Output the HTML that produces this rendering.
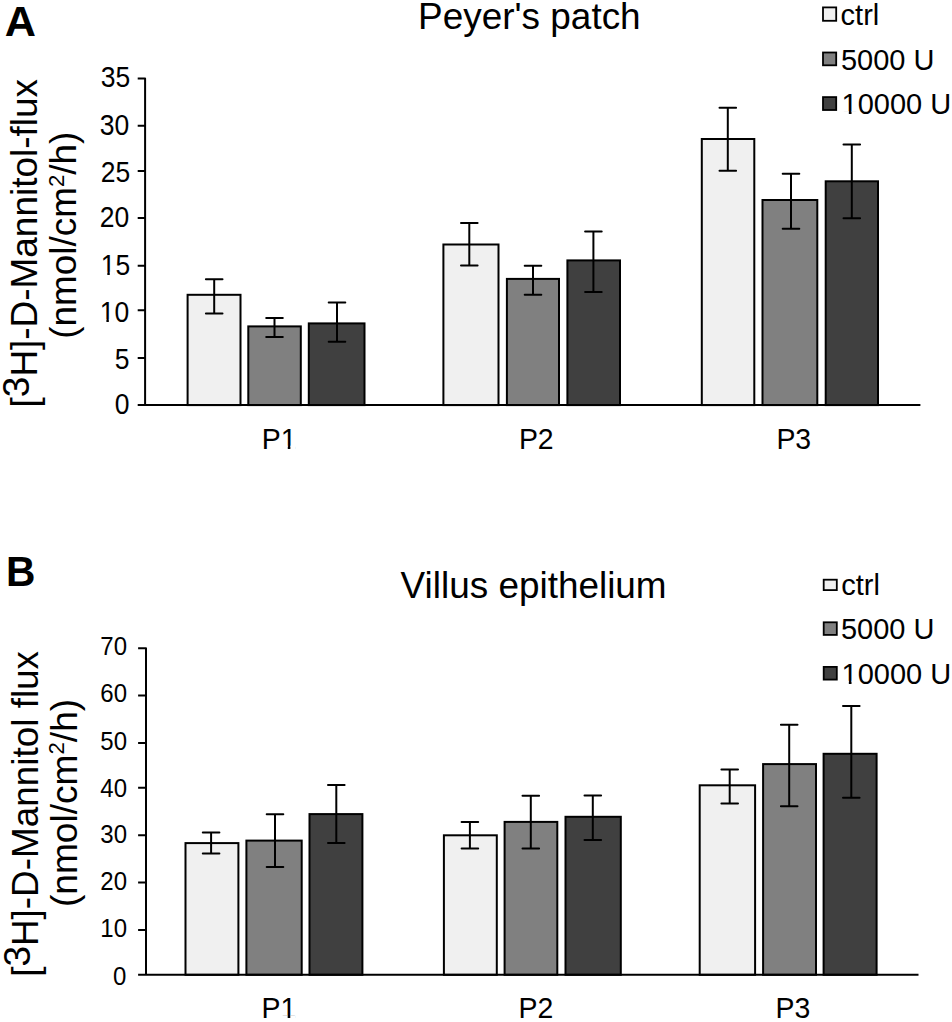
<!DOCTYPE html>
<html><head><meta charset="utf-8"><style>
html,body{margin:0;padding:0;background:#fff;width:952px;height:1022px;overflow:hidden}
svg{display:block}
text{font-family:"Liberation Sans",sans-serif;fill:#000}
</style></head><body>
<svg width="952" height="1022" viewBox="0 0 952 1022">
<rect x="187.6" y="294.8" width="52.90" height="110.30" fill="#f0f0f0" stroke="#000" stroke-width="2.0"/>
<rect x="248.3" y="326.4" width="52.50" height="78.70" fill="#808080" stroke="#000" stroke-width="2.0"/>
<rect x="308.8" y="323.4" width="55.70" height="81.70" fill="#404040" stroke="#000" stroke-width="2.0"/>
<rect x="443.4" y="244.5" width="55.10" height="160.60" fill="#f0f0f0" stroke="#000" stroke-width="2.0"/>
<rect x="506.9" y="278.9" width="52.10" height="126.20" fill="#808080" stroke="#000" stroke-width="2.0"/>
<rect x="567.4" y="260.4" width="52.60" height="144.70" fill="#404040" stroke="#000" stroke-width="2.0"/>
<rect x="701.8" y="139" width="52.50" height="266.10" fill="#f0f0f0" stroke="#000" stroke-width="2.0"/>
<rect x="762.5" y="200" width="54.80" height="205.10" fill="#808080" stroke="#000" stroke-width="2.0"/>
<rect x="825.7" y="181.3" width="52.30" height="223.80" fill="#404040" stroke="#000" stroke-width="2.0"/>
<path d="M214.2 279.35V313.5" stroke="#000" stroke-width="2.0" fill="none"/><path d="M205.90 279.35H222.50M205.90 313.5H222.50" stroke="#000" stroke-width="2.0" fill="none" stroke-linecap="round"/>
<path d="M274.5 318V336.9" stroke="#000" stroke-width="2.0" fill="none"/><path d="M266.20 318H282.80M266.20 336.9H282.80" stroke="#000" stroke-width="2.0" fill="none" stroke-linecap="round"/>
<path d="M337 302.4V341.7" stroke="#000" stroke-width="2.0" fill="none"/><path d="M328.70 302.4H345.30M328.70 341.7H345.30" stroke="#000" stroke-width="2.0" fill="none" stroke-linecap="round"/>
<path d="M469.3 223V265.5" stroke="#000" stroke-width="2.0" fill="none"/><path d="M461.00 223H477.60M461.00 265.5H477.60" stroke="#000" stroke-width="2.0" fill="none" stroke-linecap="round"/>
<path d="M533 265.7V294.7" stroke="#000" stroke-width="2.0" fill="none"/><path d="M524.70 265.7H541.30M524.70 294.7H541.30" stroke="#000" stroke-width="2.0" fill="none" stroke-linecap="round"/>
<path d="M593.4 231.4V292" stroke="#000" stroke-width="2.0" fill="none"/><path d="M585.10 231.4H601.70M585.10 292H601.70" stroke="#000" stroke-width="2.0" fill="none" stroke-linecap="round"/>
<path d="M727.8 107.8V170.8" stroke="#000" stroke-width="2.0" fill="none"/><path d="M719.50 107.8H736.10M719.50 170.8H736.10" stroke="#000" stroke-width="2.0" fill="none" stroke-linecap="round"/>
<path d="M791 173.7V228.8" stroke="#000" stroke-width="2.0" fill="none"/><path d="M782.70 173.7H799.30M782.70 228.8H799.30" stroke="#000" stroke-width="2.0" fill="none" stroke-linecap="round"/>
<path d="M851.8 144.5V218.3" stroke="#000" stroke-width="2.0" fill="none"/><path d="M843.50 144.5H860.10M843.50 218.3H860.10" stroke="#000" stroke-width="2.0" fill="none" stroke-linecap="round"/>
<path d="M137.7 78.6H145.1V405.1M137.7 405.1H920.4M137.7 357.9H145.1M137.7 310.3H145.1M137.7 265.8H145.1M137.7 218H145.1M137.7 170.9H145.1M137.7 125.8H145.1" stroke="#000" stroke-width="2.0" fill="none" stroke-linejoin="round"/>
<rect x="185.5" y="843.1" width="52.90" height="131.70" fill="#f0f0f0" stroke="#000" stroke-width="2.0"/>
<rect x="246.4" y="840.6" width="55.30" height="134.20" fill="#808080" stroke="#000" stroke-width="2.0"/>
<rect x="309.5" y="814.1" width="52.90" height="160.70" fill="#404040" stroke="#000" stroke-width="2.0"/>
<rect x="443.9" y="835.3" width="52.90" height="139.50" fill="#f0f0f0" stroke="#000" stroke-width="2.0"/>
<rect x="504.6" y="821.9" width="52.70" height="152.90" fill="#808080" stroke="#000" stroke-width="2.0"/>
<rect x="565.5" y="816.8" width="55.30" height="158.00" fill="#404040" stroke="#000" stroke-width="2.0"/>
<rect x="699.7" y="785.3" width="55.40" height="189.50" fill="#f0f0f0" stroke="#000" stroke-width="2.0"/>
<rect x="763.1" y="764.1" width="52.90" height="210.70" fill="#808080" stroke="#000" stroke-width="2.0"/>
<rect x="823.6" y="753.8" width="53.00" height="221.00" fill="#404040" stroke="#000" stroke-width="2.0"/>
<path d="M211.1 832.6V853.6" stroke="#000" stroke-width="2.0" fill="none"/><path d="M202.80 832.6H219.40M202.80 853.6H219.40" stroke="#000" stroke-width="2.0" fill="none" stroke-linecap="round"/>
<path d="M275 814.3V867" stroke="#000" stroke-width="2.0" fill="none"/><path d="M266.70 814.3H283.30M266.70 867H283.30" stroke="#000" stroke-width="2.0" fill="none" stroke-linecap="round"/>
<path d="M336.3 785.1V843.1" stroke="#000" stroke-width="2.0" fill="none"/><path d="M328.00 785.1H344.60M328.00 843.1H344.60" stroke="#000" stroke-width="2.0" fill="none" stroke-linecap="round"/>
<path d="M469.9 821.9V848.6" stroke="#000" stroke-width="2.0" fill="none"/><path d="M461.60 821.9H478.20M461.60 848.6H478.20" stroke="#000" stroke-width="2.0" fill="none" stroke-linecap="round"/>
<path d="M530.8 795.8V848.6" stroke="#000" stroke-width="2.0" fill="none"/><path d="M522.50 795.8H539.10M522.50 848.6H539.10" stroke="#000" stroke-width="2.0" fill="none" stroke-linecap="round"/>
<path d="M592.8 795.4V840" stroke="#000" stroke-width="2.0" fill="none"/><path d="M584.50 795.4H601.10M584.50 840H601.10" stroke="#000" stroke-width="2.0" fill="none" stroke-linecap="round"/>
<path d="M729.7 769.4V803.6" stroke="#000" stroke-width="2.0" fill="none"/><path d="M721.40 769.4H738.00M721.40 803.6H738.00" stroke="#000" stroke-width="2.0" fill="none" stroke-linecap="round"/>
<path d="M789.2 724.8V806.3" stroke="#000" stroke-width="2.0" fill="none"/><path d="M780.90 724.8H797.50M780.90 806.3H797.50" stroke="#000" stroke-width="2.0" fill="none" stroke-linecap="round"/>
<path d="M851.3 706.1V797.7" stroke="#000" stroke-width="2.0" fill="none"/><path d="M843.00 706.1H859.60M843.00 797.7H859.60" stroke="#000" stroke-width="2.0" fill="none" stroke-linecap="round"/>
<path d="M138.1 648.2H146V974.8M138.1 974.8H918.5M138.1 930.1H146M138.1 882.6H146M138.1 835.2H146M138.1 787.7H146M138.1 743H146M138.1 695.5H146" stroke="#000" stroke-width="2.0" fill="none" stroke-linejoin="round"/>
<rect x="823" y="7.4" width="13.2" height="13.4" fill="#f0f0f0" stroke="#000" stroke-width="1.8"/>
<rect x="823" y="52.5" width="13.2" height="12.8" fill="#808080" stroke="#000" stroke-width="1.8"/>
<rect x="823" y="97.1" width="13.2" height="12.9" fill="#404040" stroke="#000" stroke-width="1.8"/>
<rect x="823.7" y="579.7" width="13.1" height="10.4" fill="#f0f0f0" stroke="#000" stroke-width="1.8"/>
<rect x="823.7" y="622.3" width="13.1" height="12.6" fill="#808080" stroke="#000" stroke-width="1.8"/>
<rect x="823.7" y="666.9" width="13.1" height="12.7" fill="#404040" stroke="#000" stroke-width="1.8"/>
<g transform="translate(4.82 35.60) scale(0.9833 0.9806)"><text x="0" y="0" font-size="44" font-weight="bold">A</text></g>
<g transform="translate(5.92 586.00) scale(0.9259 0.9613)"><text x="0" y="0" font-size="44" font-weight="bold">B</text></g>
<g transform="translate(418.11 29.13) scale(0.9982 0.9982)"><text x="0" y="0" font-size="37">Peyer's patch</text></g>
<g transform="translate(400.60 598.23) scale(0.9981 0.9981)"><text x="0" y="0" font-size="37">Villus epithelium</text></g>
<g transform="translate(840.60 25.30) scale(1.0000 1.0000)"><text x="0" y="0" font-size="29">ctrl</text></g>
<g transform="translate(841.00 69.70) scale(1.0000 1.0400)"><text x="0" y="0" font-size="29">5000 U</text></g>
<g transform="translate(841.60 114.05) scale(1.0000 1.0400)"><text x="0" y="0" font-size="29">10000 U</text><rect x="1.40" y="-2.77" width="5.84" height="3.37" fill="#fff"/><rect x="9.91" y="-2.77" width="5.59" height="3.37" fill="#fff"/></g>
<g transform="translate(841.30 594.50) scale(1.0000 1.0000)"><text x="0" y="0" font-size="29">ctrl</text></g>
<g transform="translate(841.00 638.95) scale(1.0000 1.0400)"><text x="0" y="0" font-size="29">5000 U</text></g>
<g transform="translate(841.60 683.65) scale(1.0000 1.0400)"><text x="0" y="0" font-size="29">10000 U</text><rect x="1.40" y="-2.77" width="5.84" height="3.37" fill="#fff"/><rect x="9.91" y="-2.77" width="5.59" height="3.37" fill="#fff"/></g>
<g transform="translate(261.71 448.60) scale(0.9800 1.0400)"><text x="0" y="0" font-size="29">P1</text><rect x="20.75" y="-2.77" width="5.84" height="3.37" fill="#fff"/><rect x="29.25" y="-2.77" width="5.59" height="3.37" fill="#fff"/></g>
<g transform="translate(518.91 448.60) scale(0.9800 1.0400)"><text x="0" y="0" font-size="29">P2</text></g>
<g transform="translate(776.41 448.60) scale(0.9800 1.0400)"><text x="0" y="0" font-size="29">P3</text></g>
<g transform="translate(261.61 1018.35) scale(0.9800 1.0400)"><text x="0" y="0" font-size="29">P1</text><rect x="20.75" y="-2.77" width="5.84" height="3.37" fill="#fff"/><rect x="29.25" y="-2.77" width="5.59" height="3.37" fill="#fff"/></g>
<g transform="translate(518.51 1018.35) scale(0.9800 1.0400)"><text x="0" y="0" font-size="29">P2</text></g>
<g transform="translate(775.61 1018.35) scale(0.9800 1.0400)"><text x="0" y="0" font-size="29">P3</text></g>
<g transform="translate(114.65 414.08) scale(0.9300 1.0400)"><text x="0" y="0" font-size="28.5">0</text></g>
<g transform="translate(114.65 369.28) scale(0.9300 1.0400)"><text x="0" y="0" font-size="28.5">5</text></g>
<g transform="translate(99.77 321.88) scale(0.9300 1.0400)"><text x="0" y="0" font-size="28.5">10</text><rect x="1.37" y="-2.73" width="5.75" height="3.33" fill="#fff"/><rect x="9.74" y="-2.73" width="5.51" height="3.33" fill="#fff"/></g>
<g transform="translate(100.70 274.58) scale(0.9300 1.0400)"><text x="0" y="0" font-size="28.5">15</text><rect x="1.37" y="-2.73" width="5.75" height="3.33" fill="#fff"/><rect x="9.74" y="-2.73" width="5.51" height="3.33" fill="#fff"/></g>
<g transform="translate(99.77 227.38) scale(0.9300 1.0400)"><text x="0" y="0" font-size="28.5">20</text></g>
<g transform="translate(100.70 181.98) scale(0.9300 1.0400)"><text x="0" y="0" font-size="28.5">25</text></g>
<g transform="translate(99.77 135.28) scale(0.9300 1.0400)"><text x="0" y="0" font-size="28.5">30</text></g>
<g transform="translate(100.70 87.28) scale(0.9300 1.0400)"><text x="0" y="0" font-size="28.5">35</text></g>
<g transform="translate(113.06 984.94) scale(0.9800 1.0400)"><text x="0" y="0" font-size="24.5">0</text></g>
<g transform="translate(100.32 936.84) scale(0.9800 1.0400)"><text x="0" y="0" font-size="24.5">10</text></g>
<g transform="translate(100.32 889.64) scale(0.9800 1.0400)"><text x="0" y="0" font-size="24.5">20</text></g>
<g transform="translate(100.32 842.64) scale(0.9800 1.0400)"><text x="0" y="0" font-size="24.5">30</text></g>
<g transform="translate(100.32 797.14) scale(0.9800 1.0400)"><text x="0" y="0" font-size="24.5">40</text></g>
<g transform="translate(100.32 749.84) scale(0.9800 1.0400)"><text x="0" y="0" font-size="24.5">50</text></g>
<g transform="translate(100.32 702.24) scale(0.9800 1.0400)"><text x="0" y="0" font-size="24.5">60</text></g>
<g transform="translate(100.32 655.04) scale(0.9800 1.0400)"><text x="0" y="0" font-size="24.5">70</text></g>
<g transform="translate(36.60 407.41) rotate(-90) scale(1.0037)"><text x="0" y="0" font-size="36.8">[<tspan dy="-7.5">3</tspan><tspan dy="7.5">H]-D-Mannitol-flux</tspan></text></g>
<g transform="translate(76.34 338.81) rotate(-90) scale(1.0040)"><text x="0" y="0" font-size="36.8">(nmol/cm<tspan font-size="22" dy="-12.5">2</tspan><tspan dy="12.5">/h)</tspan></text></g>
<g transform="translate(37.53 976.81) rotate(-90) scale(1.0025)"><text x="0" y="0" font-size="36.8">[<tspan dy="-7.5">3</tspan><tspan dy="7.5">H]-D-Mannitol flux</tspan></text></g>
<g transform="translate(76.68 907.02) rotate(-90) scale(1.0084)"><text x="0" y="0" font-size="36.8">(nmol/cm<tspan font-size="22" dy="-12.5">2</tspan><tspan dy="12.5">/h)</tspan></text></g>
</svg>
</body></html>
